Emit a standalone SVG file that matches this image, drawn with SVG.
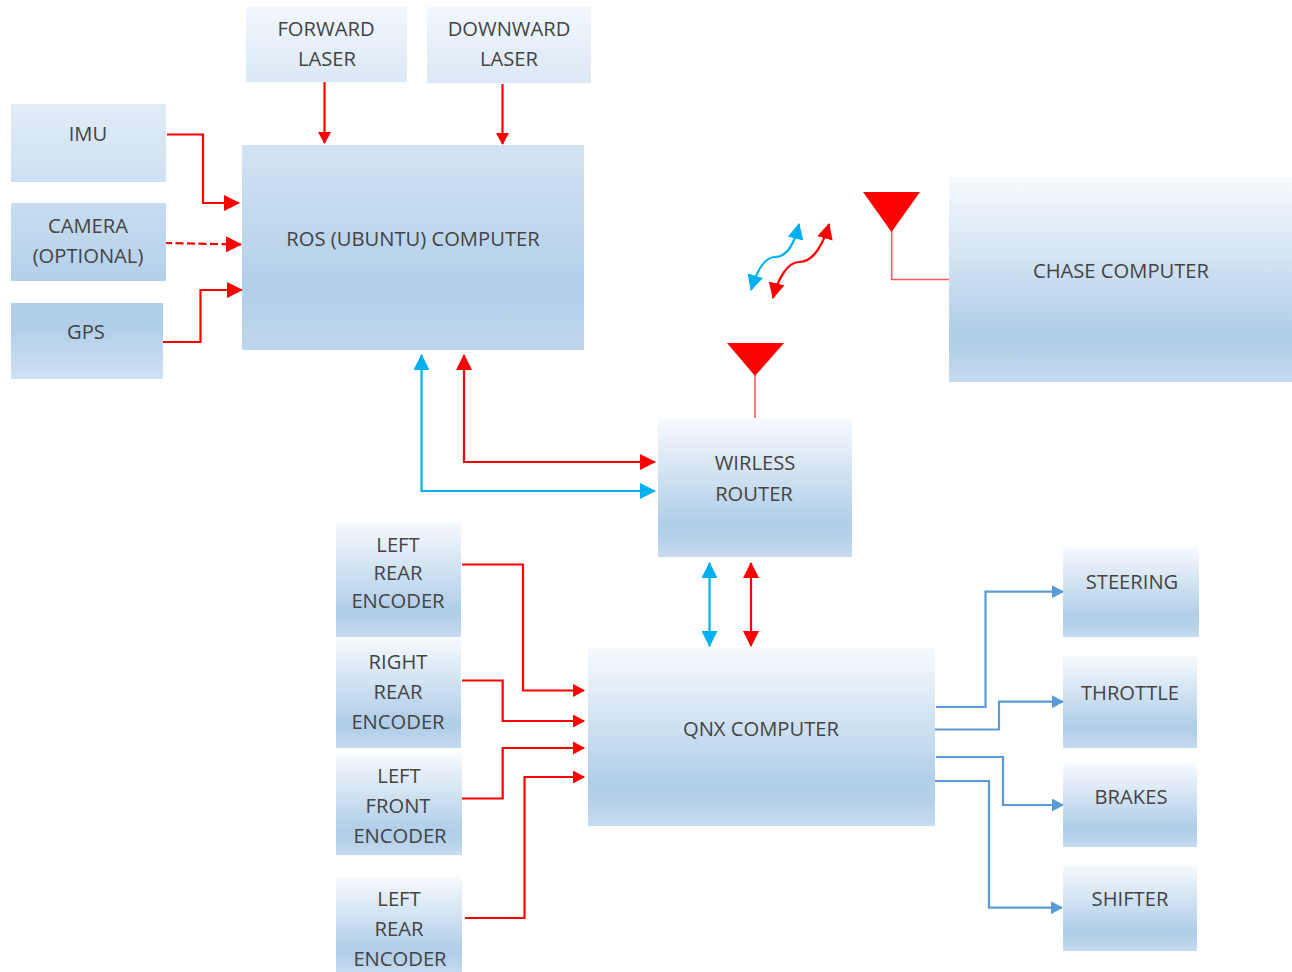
<svg xmlns="http://www.w3.org/2000/svg" width="1292" height="972" viewBox="0 0 1292 972">
<style>
text{font-family:"Open Sans","Noto Sans","Liberation Sans",sans-serif;font-size:20.2px;fill:#444444;text-anchor:middle}
.c{fill:none;stroke-width:2.2px;stroke-linejoin:miter}
.r{stroke:#ff0000}.b{stroke:#00b0f0}.s{stroke:#5b9bd5}
.t{fill:none;stroke:#ff5a5a;stroke-width:1.6px}
.fb{fill:#00b0f0}.fr{fill:#ff0000}.fs{fill:#5b9bd5}
</style>
<defs>
<linearGradient id="g"  x1="0" y1="0" x2="0" y2="1"><stop offset="0" stop-color="#f7fafd"/><stop offset=".74" stop-color="#b2cfe9"/><stop offset=".83" stop-color="#b2cfe9"/><stop offset="1" stop-color="#c6dbef"/></linearGradient>
<linearGradient id="gl" gradientUnits="userSpaceOnUse" x1="0" y1="20" x2="0" y2="450"><stop offset="0" stop-color="#f7fafd"/><stop offset=".62" stop-color="#b2cfe9"/><stop offset=".72" stop-color="#b2cfe9"/><stop offset=".85" stop-color="#d4e3f3"/></linearGradient>
<linearGradient id="gt" x1="0" y1="0" x2="0" y2="1"><stop offset="0" stop-color="#f2f7fc"/><stop offset="1" stop-color="#dbe8f5"/></linearGradient>
<linearGradient id="gr" x1="0" y1="0" x2="0" y2="1"><stop offset="0" stop-color="#d3e3f3"/><stop offset=".7" stop-color="#b2cfe9"/><stop offset="1" stop-color="#bed6ec"/></linearGradient>
<marker id="ar" markerUnits="userSpaceOnUse" markerWidth="16" markerHeight="16" refX="15" refY="8" orient="auto-start-reverse"><path d="M0,0 L16,8 L0,16Z" fill="#ff0000"/></marker>
<marker id="ab" markerUnits="userSpaceOnUse" markerWidth="16" markerHeight="16" refX="15" refY="8" orient="auto-start-reverse"><path d="M0,0 L16,8 L0,16Z" fill="#00b0f0"/></marker>
<marker id="as" markerUnits="userSpaceOnUse" markerWidth="12" markerHeight="13" refX="11" refY="6.500" orient="auto"><path d="M0,0 L12,6.500 L0,13Z" fill="#5b9bd5"/></marker>
<marker id="asm" markerUnits="userSpaceOnUse" markerWidth="12" markerHeight="13" refX="11" refY="6.500" orient="auto"><path d="M0,0 L12,6.500 L0,13Z" fill="#ff0000"/></marker>
</defs>
<g id="connectors">
<path class="c r" marker-end="url(#asm)" d="M324.500,82V143"/>
<path class="c r" marker-end="url(#asm)" d="M502.500,84V144"/>
<path class="c r" marker-end="url(#ar)" d="M167,134.500H203V203H239"/>
<path class="c r" marker-end="url(#ar)" stroke-dasharray="8 3.500" d="M164,243L241,244.500"/>
<path class="c r" marker-end="url(#ar)" d="M160,342H200.500V290H242"/>
<path class="c r" marker-start="url(#ar)" marker-end="url(#ar)" d="M464,355V462H655"/>
<path class="c b" marker-start="url(#ab)" marker-end="url(#ab)" d="M421.500,355V491H655"/>
<path class="c b" marker-start="url(#ab)" marker-end="url(#ab)" d="M709.500,563V646"/>
<path class="c r" marker-start="url(#ar)" marker-end="url(#ar)" d="M751,563V646"/>
<path class="c r" marker-end="url(#asm)" d="M462,564.500H523V690.500H584"/>
<path class="c r" marker-end="url(#asm)" d="M462,680.500H502.700V721H584"/>
<path class="c r" marker-end="url(#asm)" d="M462,798.500H502.700V748H584"/>
<path class="c r" marker-end="url(#asm)" d="M465,918H524.500V777H584"/>
<path class="c s" marker-end="url(#as)" d="M936,707H985.500V591.700H1063"/>
<path class="c s" marker-end="url(#as)" d="M931.500,729.500H999V701.700H1063"/>
<path class="c s" marker-end="url(#as)" d="M936,757H1003V805H1063"/>
<path class="c s" marker-end="url(#as)" d="M928,781H989V907.700H1062"/>
<path class="c b" stroke-width="2.500" marker-start="url(#ab)" marker-end="url(#ab)" d="M751,290C757,270 765,257 775,257C787,257 794,245 799,224"/>
<path class="c r" stroke-width="2.500" marker-start="url(#ar)" marker-end="url(#ar)" d="M773,298C778,278 788,262 799,262C813,262 823,245 829,224"/>
<path class="t" d="M891.700,230V279.500H950"/>
<path class="t" d="M755,375V419"/>
</g>
<g id="antenna-chase"><path class="fr" d="M863,192H920L891.500,232Z"/></g>
<g id="antenna-router"><path class="fr" d="M727,343H784L755,376Z"/></g>
<g id="forward-laser"><rect x="246" y="7" width="161" height="75" fill="url(#gt)"/><text x="326" y="36">FORWARD</text><text x="327" y="66">LASER</text></g>
<g id="downward-laser"><rect x="427" y="7" width="164" height="76" fill="url(#gt)"/><text x="509" y="36">DOWNWARD</text><text x="509" y="66">LASER</text></g>
<g id="imu"><rect x="11" y="104" width="155" height="78" fill="url(#gl)"/><text x="88" y="141">IMU</text></g>
<g id="camera"><rect x="11" y="203" width="155" height="78" fill="url(#gl)"/><text x="88" y="233">CAMERA</text><text x="88" y="263">(OPTIONAL)</text></g>
<g id="gps"><rect x="11" y="303" width="152" height="76" fill="url(#gl)"/><text x="86" y="339">GPS</text></g>
<g id="ros"><rect x="242" y="145" width="342" height="205" fill="url(#gr)"/><text x="413" y="246">ROS (UBUNTU) COMPUTER</text></g>
<g id="chase"><rect x="949" y="177" width="343" height="205" fill="url(#g)"/><text x="1121" y="278">CHASE COMPUTER</text></g>
<g id="router"><rect x="658" y="418" width="194" height="139" fill="url(#g)"/><text x="755" y="470">WIRLESS</text><text x="754" y="501">ROUTER</text></g>
<g id="qnx"><rect x="588" y="648" width="347" height="178" fill="url(#g)"/><text x="761" y="736">QNX COMPUTER</text></g>
<g id="left-rear-1"><rect x="336" y="522" width="125" height="115" fill="url(#g)"/><text x="398" y="552">LEFT</text><text x="398" y="580">REAR</text><text x="398" y="608">ENCODER</text></g>
<g id="right-rear"><rect x="336" y="638" width="125" height="110" fill="url(#g)"/><text x="398" y="669">RIGHT</text><text x="398" y="699">REAR</text><text x="398" y="729">ENCODER</text></g>
<g id="left-front"><rect x="336" y="753" width="126" height="102" fill="url(#g)"/><text x="399" y="783">LEFT</text><text x="398" y="813">FRONT</text><text x="400" y="843">ENCODER</text></g>
<g id="left-rear-2"><rect x="336" y="877" width="126" height="95" fill="url(#g)"/><text x="399" y="906">LEFT</text><text x="399" y="936">REAR</text><text x="400" y="966">ENCODER</text></g>
<g id="steering"><rect x="1063" y="547" width="136" height="90" fill="url(#g)"/><text x="1132" y="589">STEERING</text></g>
<g id="throttle"><rect x="1063" y="656" width="134" height="92" fill="url(#g)"/><text x="1130" y="700">THROTTLE</text></g>
<g id="brakes"><rect x="1063" y="764" width="134" height="83" fill="url(#g)"/><text x="1131" y="804">BRAKES</text></g>
<g id="shifter"><rect x="1063" y="865" width="134" height="86" fill="url(#g)"/><text x="1130" y="906">SHIFTER</text></g>
</svg>
